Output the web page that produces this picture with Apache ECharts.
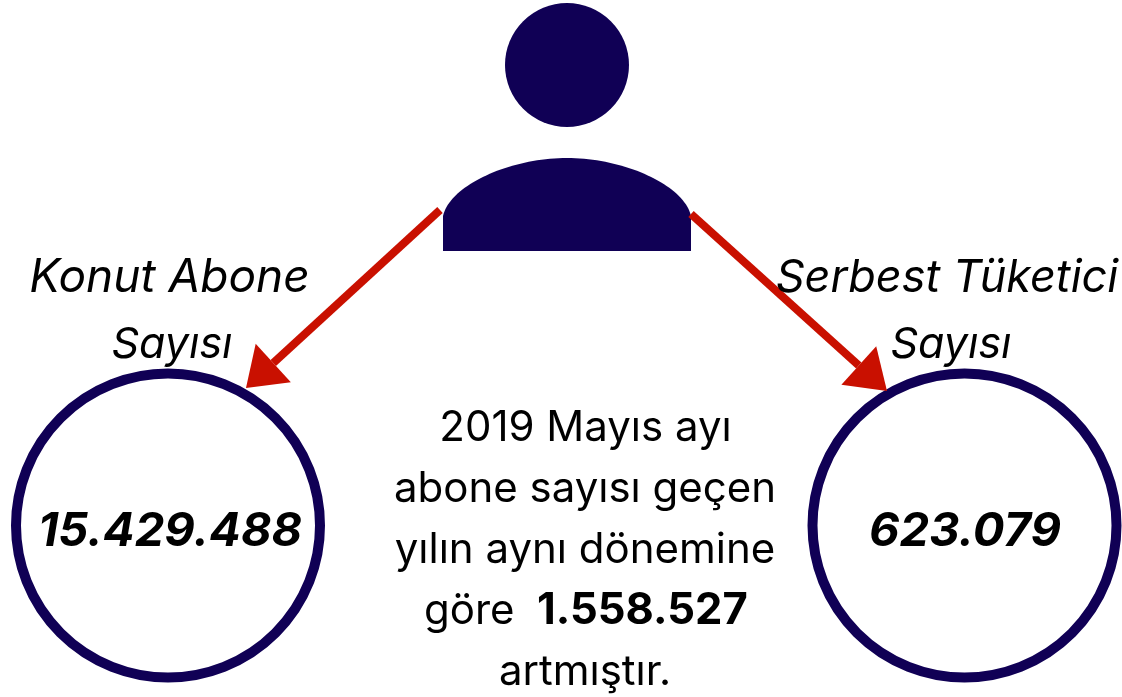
<!DOCTYPE html>
<html><head><meta charset="utf-8">
<style>html,body{margin:0;padding:0;background:#fff}#c{width:1122px;height:697px}</style>
<script src="https://cdn.jsdelivr.net/npm/echarts@6/dist/echarts.min.js"></script>
</head><body><div id="c"></div>
<script>
const leftLabel = ["Konut Abone", "Sayısı"];
const rightLabel = ["Serbest Tüketici", "Sayısı"];
const leftValue = "15.429.488";
const rightValue = "623.079";
const noteLines = ["2019 Mayıs ayı", "abone sayısı geçen", "yılın aynı dönemine"];
const noteIncreaseBefore = "göre";
const noteIncrease = "1.558.527";
const noteEnd = "artmıştır.";

const NAVY = "#100055", RED = "#c91000", FONT = "Inter, sans-serif";
const chart = echarts.init(document.getElementById("c"), null, {renderer: "canvas"});
const noteFont = "400 42px " + FONT;
function txt(x, y, s, o) {
  return {type: "text", x, y, style: Object.assign({text: s, fill: "#000", font: noteFont, align: "center", verticalAlign: "middle"}, o || {})};
}
function arrow(x1, y1, x2, y2, a, b) {
  const L = Math.hypot(x2 - x1, y2 - y1), ux = (x2 - x1) / L, uy = (y2 - y1) / L;
  const bx = x2 - ux * a, by = y2 - uy * a;
  return [
    {type: "line", shape: {x1, y1, x2: bx, y2: by}, style: {stroke: RED, lineWidth: 8}},
    {type: "polygon", shape: {points: [[x2, y2], [bx - uy * b, by + ux * b], [bx + uy * b, by - ux * b]]}, style: {fill: RED}}
  ];
}
function torso() {
  const pts = [[443, 251]];
  const n = 40, b = (a, c, d, e, t) => {
    const u = 1 - t;
    return u * u * u * a + 3 * u * u * t * c + 3 * u * t * t * d + t * t * t * e;
  };
  for (let i = 0; i <= n; i++) pts.push([b(443, 450, 510, 567, i / n), b(216, 185, 158, 158, i / n)]);
  for (let i = n - 1; i >= 0; i--) pts.push([b(691, 684, 624, 567, i / n), b(216, 185, 158, 158, i / n)]);
  pts.push([691, 251]);
  return pts;
}
const ital = s => "italic 400 " + s + "px " + FONT, boldItalic = "italic 700 47px " + FONT;
const els = [
  {type: "circle", shape: {cx: 567, cy: 65, r: 62}, style: {fill: NAVY}},
  {type: "polygon", shape: {points: torso()}, style: {fill: NAVY}},
  {type: "circle", shape: {cx: 168, cy: 525.5, r: 152}, style: {fill: "#fff", stroke: NAVY, lineWidth: 10}},
  {type: "circle", shape: {cx: 964.5, cy: 525.5, r: 152}, style: {fill: "#fff", stroke: NAVY, lineWidth: 10}},
  ...arrow(440, 210, 246, 388, 37, 26),
  ...arrow(691, 214, 887, 391, 38, 26),
  txt(169.5, 278, leftLabel[0], {font: ital(46)}),
  txt(172, 345, leftLabel[1], {font: ital(43)}),
  txt(947, 278, rightLabel[0], {font: ital(45)}),
  txt(951, 345, rightLabel[1], {font: ital(43)}),
  txt(170, 532, leftValue, {font: boldItalic}),
  txt(965, 532, rightValue, {font: boldItalic}),
  txt(585.5, 428, noteLines[0]),
  txt(585, 489, noteLines[1]),
  txt(585, 550, noteLines[2]),
  txt(424, 611, noteIncreaseBefore, {align: "left"}),
  txt(537, 611, noteIncrease, {align: "left", font: "700 43.5px " + FONT}),
  txt(585, 672, noteEnd)
];
chart.setOption({animation: false, graphic: {elements: els}});
</script></body></html>
